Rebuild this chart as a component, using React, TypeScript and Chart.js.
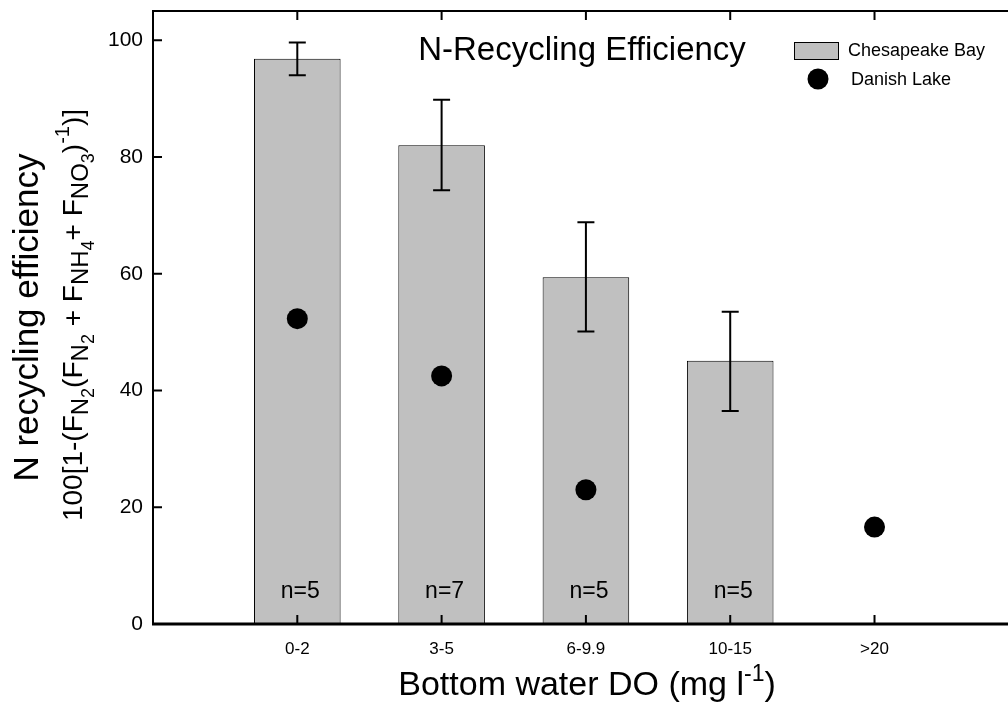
import React, { useEffect, useRef } from "react";
import { Chart, registerables } from "chart.js";

Chart.register(...registerables);

const categories = ["0-2", "3-5", "6-9.9", "10-15", ">20"];
const chesapeakeX = [1, 2, 3, 4];
const chesapeakeMean = [96.8, 82.0, 59.4, 45.1];
const chesapeakeErrLow = [94.0, 74.3, 50.1, 36.5];
const chesapeakeErrHigh = [99.6, 89.8, 68.8, 53.5];
const sampleSizes = ["n=5", "n=7", "n=5", "n=5"];
const sampleLabelY = 5.6;
const danishX = [1, 2, 3, 5];
const danishValues = [52.3, 42.5, 23.0, 16.6];
const yTicks = [0, 20, 40, 60, 80, 100];

const FONT = '"Liberation Sans", Arial, Helvetica, sans-serif';
const BAR_FILL = "#c0c0c0";

type Seg = { t: string; size: number; dy: number };

function richWidth(ctx: CanvasRenderingContext2D, segs: Seg[]) {
  let w = 0;
  for (const s of segs) {
    ctx.font = `${s.size}px ${FONT}`;
    w += ctx.measureText(s.t).width;
  }
  return w;
}

function drawRich(ctx: CanvasRenderingContext2D, segs: Seg[], cx: number, baseline: number) {
  const w = richWidth(ctx, segs);
  let x = cx - w / 2;
  ctx.textAlign = "left";
  ctx.textBaseline = "alphabetic";
  for (const s of segs) {
    ctx.font = `${s.size}px ${FONT}`;
    ctx.fillText(s.t, x, baseline + s.dy);
    x += ctx.measureText(s.t).width;
  }
}

const zeroPadding = (s: any) => {
  s.paddingTop = 0;
  s.paddingBottom = 0;
  s.paddingLeft = 0;
  s.paddingRight = 0;
};

const decorPlugin = {
  id: "decor",
  afterDatasetsDraw(chart: any) {
    const ctx: CanvasRenderingContext2D = chart.ctx;
    const xs = chart.scales.x;
    const ys = chart.scales.y;
    ctx.save();
    ctx.strokeStyle = "#000";
    ctx.lineWidth = 2;
    const cap = 8.5;
    chesapeakeX.forEach((xv, i) => {
      const px = xs.getPixelForValue(xv);
      const pLo = ys.getPixelForValue(chesapeakeErrLow[i]);
      const pHi = ys.getPixelForValue(chesapeakeErrHigh[i]);
      ctx.beginPath();
      ctx.moveTo(px, pLo);
      ctx.lineTo(px, pHi);
      ctx.moveTo(px - cap, pLo);
      ctx.lineTo(px + cap, pLo);
      ctx.moveTo(px - cap, pHi);
      ctx.lineTo(px + cap, pHi);
      ctx.stroke();
    });
    ctx.fillStyle = "#000";
    ctx.font = `23px ${FONT}`;
    ctx.textAlign = "center";
    ctx.textBaseline = "middle";
    chesapeakeX.forEach((xv, i) => {
      ctx.fillText(sampleSizes[i], xs.getPixelForValue(xv) + 3, ys.getPixelForValue(sampleLabelY));
    });
    ctx.restore();
  },
  afterDraw(chart: any) {
    const ctx: CanvasRenderingContext2D = chart.ctx;
    const { left, right, top, bottom } = chart.chartArea;
    const xs = chart.scales.x;
    const ys = chart.scales.y;
    ctx.save();
    ctx.strokeStyle = "#000";
    ctx.lineWidth = 2;
    ctx.beginPath();
    ctx.moveTo(left - 1, top);
    ctx.lineTo(right, top);
    ctx.moveTo(left, top);
    ctx.lineTo(left, bottom);
    ctx.stroke();
    ctx.lineWidth = 3;
    ctx.beginPath();
    ctx.moveTo(left - 1, bottom);
    ctx.lineTo(right, bottom);
    ctx.stroke();
    ctx.lineWidth = 2;
    ctx.beginPath();
    yTicks.forEach((v) => {
      const py = ys.getPixelForValue(v);
      ctx.moveTo(left, py);
      ctx.lineTo(left + 9, py);
    });
    categories.forEach((_, i) => {
      const px = xs.getPixelForValue(i + 1);
      ctx.moveTo(px, top);
      ctx.lineTo(px, top + 9);
      ctx.moveTo(px, bottom);
      ctx.lineTo(px, bottom - 9);
    });
    ctx.stroke();

    ctx.fillStyle = "#000";
    ctx.font = `33px ${FONT}`;
    ctx.textAlign = "center";
    ctx.textBaseline = "alphabetic";
    ctx.fillText("N-Recycling Efficiency", 582, 60);

    // legend
    ctx.fillStyle = BAR_FILL;
    ctx.fillRect(794, 42, 44, 17);
    ctx.lineWidth = 1;
    ctx.strokeRect(794.5, 42.5, 44, 17);
    ctx.fillStyle = "#000";
    ctx.beginPath();
    ctx.arc(818, 79, 10.5, 0, Math.PI * 2);
    ctx.fill();
    ctx.font = `18px ${FONT}`;
    ctx.textAlign = "left";
    ctx.textBaseline = "middle";
    ctx.fillText("Chesapeake Bay", 848, 51);
    ctx.fillText("Danish Lake", 851, 80);

    // x axis title
    drawRich(
      ctx,
      [
        { t: "Bottom water DO (mg l", size: 34, dy: 0 },
        { t: "-1", size: 23, dy: -14 },
        { t: ")", size: 34, dy: 0 },
      ],
      587,
      695
    );

    // y axis titles (rotated)
    const cy = (top + bottom) / 2;
    ctx.save();
    ctx.rotate(-Math.PI / 2);
    ctx.font = `35px ${FONT}`;
    ctx.textAlign = "center";
    ctx.textBaseline = "alphabetic";
    ctx.fillText("N recycling efficiency", -cy, 38);
    const m = 28, s = 24, ss = 18, sp = 20;
    drawRich(
      ctx,
      [
        { t: "100[1-(F", size: m, dy: 0 },
        { t: "N", size: s, dy: 6 },
        { t: "2", size: ss, dy: 12 },
        { t: "(F", size: m, dy: 0 },
        { t: "N", size: s, dy: 6 },
        { t: "2", size: ss, dy: 12 },
        { t: " + F", size: m, dy: 0 },
        { t: "NH", size: s, dy: 6 },
        { t: "4", size: ss, dy: 12 },
        { t: "+ F", size: m, dy: 0 },
        { t: "NO", size: s, dy: 6 },
        { t: "3", size: ss, dy: 12 },
        { t: ")", size: m, dy: 0 },
        { t: "-1", size: sp, dy: -13 },
        { t: ")]", size: m, dy: 0 },
      ],
      -315,
      82
    );
    ctx.restore();
    ctx.restore();
  },
};

export default function App() {
  const ref = useRef<HTMLCanvasElement | null>(null);
  useEffect(() => {
    if (!ref.current) return;
    const chart = new Chart(ref.current, {
      type: "bar",
      data: {
        datasets: [
          {
            type: "bar",
            label: "Chesapeake Bay",
            data: chesapeakeX.map((x, i) => ({ x, y: chesapeakeMean[i] })),
            backgroundColor: BAR_FILL,
            borderColor: "#000",
            borderWidth: 1,
            barPercentage: 0.6,
            categoryPercentage: 1,
            order: 2,
          } as any,
          {
            type: "scatter",
            label: "Danish Lake",
            data: danishX.map((x, i) => ({ x, y: danishValues[i] })),
            backgroundColor: "#000",
            borderColor: "#000",
            borderWidth: 0,
            pointRadius: 10.5,
            order: 1,
          } as any,
        ],
      },
      options: {
        animation: false,
        responsive: false,
        layout: { autoPadding: false, padding: { top: 11, left: 0, right: 0, bottom: 0 } },
        plugins: { legend: { display: false }, tooltip: { enabled: false }, title: { display: false } },
        scales: {
          x: {
            type: "linear",
            min: 0,
            max: 5.925,
            offset: false,
            grid: { display: false, drawTicks: false },
            border: { display: false },
            afterBuildTicks: (s: any) => {
              s.ticks = categories.map((_, i) => ({ value: i + 1 }));
            },
            afterFit: (s: any) => {
              s.height = 82;
              zeroPadding(s);
            },
            ticks: {
              autoSkip: false,
              maxRotation: 0,
              padding: 15,
              color: "#000",
              font: { family: FONT, size: 17 },
              callback: (v: any) => categories[Number(v) - 1] ?? "",
            },
          },
          y: {
            type: "linear",
            min: 0,
            max: 105,
            grid: { display: false, drawTicks: false },
            border: { display: false },
            afterBuildTicks: (s: any) => {
              s.ticks = yTicks.map((value) => ({ value }));
            },
            afterFit: (s: any) => {
              s.width = 153;
              zeroPadding(s);
            },
            ticks: {
              padding: 10,
              color: "#000",
              font: { family: FONT, size: 21 },
            },
          },
        },
      },
      plugins: [decorPlugin],
    });
    return () => chart.destroy();
  }, []);
  return (
    <div style={{ position: "absolute", left: 0, top: 0, width: 1008, height: 706, background: "#fff" }}>
      <canvas ref={ref} width={1008} height={706} />
    </div>
  );
}
